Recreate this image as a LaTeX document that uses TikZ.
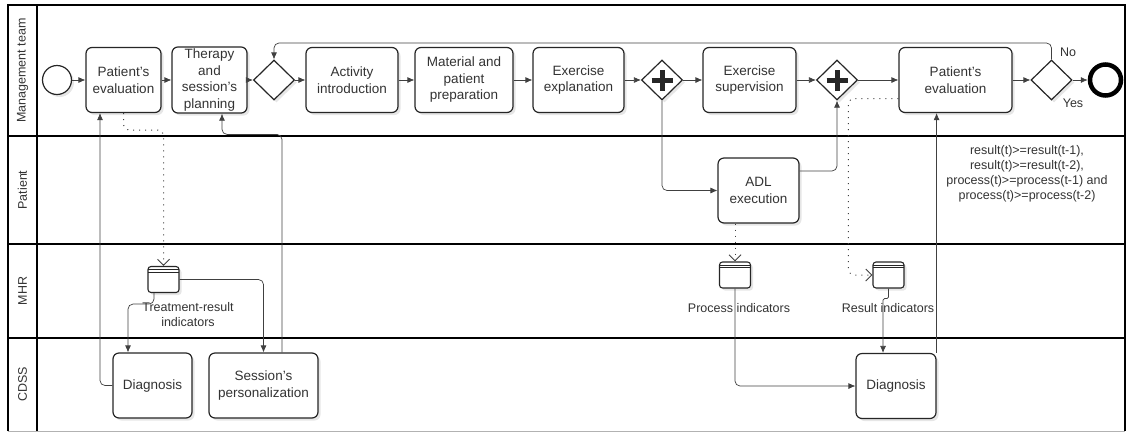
\documentclass[tikz,border=0pt]{standalone}
\usepackage{fontspec}
\setmainfont{Liberation Sans}
\usetikzlibrary{positioning}
\usetikzlibrary{shapes.geometric}
\usetikzlibrary{arrows.meta}
\usetikzlibrary{shadows}

\begin{document}
\begin{tikzpicture}
          [x=1pt, y=-1pt,
           every node/.style={text=black!80},
           soft/.style={drop shadow={shadow xshift=2.5pt, shadow yshift=-2.5pt, opacity=0.2}},
           task/.style={draw=black!85, line width=1.2pt, rounded corners=6pt, fill=white, soft,
             align=center, minimum height=65pt, inner sep=2pt, font=\fontsize{13.5}{16.5}\selectfont},
           gate/.style={draw=black!85, line width=1.2pt, diamond, fill=white, soft,
             minimum width=41pt, minimum height=40pt, inner sep=0pt},
           plus/.style={gate, path picture={
             \draw[line width=5pt, black!85]
               ([xshift=-10.5pt]path picture bounding box.center) -- ([xshift=10.5pt]path picture bounding box.center)
               ([yshift=-10.5pt]path picture bounding box.center) -- ([yshift=10.5pt]path picture bounding box.center);}},
           store/.style={draw=black!85, line width=1.1pt, rounded corners=3pt, fill=white, soft,
             minimum width=31pt, minimum height=26pt, path picture={
             \draw[line width=0.8pt, black!85]
               ([yshift=-3pt]path picture bounding box.north west) -- ([yshift=-3pt]path picture bounding box.north east)
               ([yshift=-5.5pt]path picture bounding box.north west) -- ([yshift=-5.5pt]path picture bounding box.north east);}},
           flow/.style={draw=black!75, line width=0.7pt, rounded corners=5pt, -{Latex[length=7pt,width=6pt]}},
           assoc/.style={draw=black!75, line width=1pt, dash pattern=on 1pt off 5pt, rounded corners=6pt,
             -{Straight Barb[length=6pt,width=12pt]}},
           note/.style={font=\fontsize{12.5}{15}\selectfont, align=center},
           lane/.style={rotate=90, font=\fontsize{12.5}{15}\selectfont}]
          \useasboundingbox (0,0) rectangle (1126,432);

          % pool and lanes
          \draw[line width=1.8pt] (8,431) -- (8,5) -- (1125,5) -- (1125,431);
          \draw[black!30] (8,431) -- (1125,431);
          \draw[line width=1.8pt] (37,5) -- (37,431);
          \foreach \y in {136,244,338}
            \draw[line width=1.8pt] (8,\y) -- (1125,\y);
          \node (mgmt) [lane] at (22.5,70.5) {Management team};
          \node (pat) [lane] at (22.5,190) {Patient};
          \node (mhr) [lane] at (22.5,291) {MHR};
          \node (cdss) [lane] at (22.5,384.5) {CDSS};

          % management team
          \node (start) [circle, draw=black!85, line width=1.2pt, fill=white, soft, minimum size=29pt] at (57,80) {};
          \node (eval1) [task, minimum width=75pt] at (123.5,80) {Patient's\\evaluation};
          \node (plan) [task, minimum width=75pt] at (209.5,80) {Therapy\\and\\session's\\planning};
          \node (gw1) [gate] at (274,80) {};
          \node (act) [task, minimum width=92pt] at (352,80) {Activity\\introduction};
          \node (prep) [task, minimum width=98pt] at (464,80) {Material and\\patient\\preparation};
          \node (expl) [task, minimum width=91pt] at (578.5,80) {Exercise\\explanation};
          \node (par1) [plus] at (662,80) {};
          \node (sup) [task, minimum width=93pt] at (749.5,80) {Exercise\\supervision};
          \node (par2) [plus] at (837,80) {};
          \node (eval2) [task, minimum width=113pt] at (955.5,80) {Patient's\\evaluation};
          \node (gw2) [gate] at (1051.5,80) {};
          \node (stop) [circle, draw=black, line width=4.5pt, fill=white, minimum size=31pt] at (1105.5,80) {};
          \node (no) [note] at (1068,52) {No};
          \node (yes) [note] at (1073,103) {Yes};

          % patient
          \node (adl) [task, minimum width=81pt] at (758.5,190.5) {ADL\\execution};
          \node (cond) [note] at (1027,174) {result(t)>=result(t-1),\\result(t)>=result(t-2),\\process(t)>=process(t-1) and\\process(t)>=process(t-2)};

          % MHR
          \node (tri) [store] at (163.5,279.5) {};
          \node (proc) [store] at (735,275) {};
          \node (res) [store] at (888.5,275) {};
          \node (trilabel) [note] at (188,314.5) {Treatment-result\\indicators};
          \node (proclabel) [note] at (739,308) {Process indicators};
          \node (reslabel) [note] at (888,308) {Result indicators};

          % CDSS
          \node (diag1) [task, minimum width=79pt] at (152.5,385.5) {Diagnosis};
          \node (pers) [task, minimum width=109pt] at (263.5,385.5) {Session's\\personalization};
          \node (diag2) [task, minimum width=80pt] at (896,386) {Diagnosis};

          \draw[flow] (start) -- (eval1);
          \draw[flow] (eval1) -- (plan);
          \draw[flow] (plan) -- (gw1);
          \draw[flow] (gw1) -- (act);
          \draw[flow] (act) -- (prep);
          \draw[flow] (prep) -- (expl);
          \draw[flow] (expl) -- (par1);
          \draw[flow] (par1) -- (sup);
          \draw[flow] (sup) -- (par2);
          \draw[flow] (par2) -- (eval2);
          \draw[flow] (eval2) -- (gw2);
          \draw[flow] (gw2) -- (stop);
          \coordinate (looptop) at (0,43);
          \draw[flow] (gw2.north) -- (gw2.north |- looptop) -- (gw1.north |- looptop) -- (gw1.north);

          \draw[flow] (par1.south) |- (adl.west);
          \draw[flow] ([yshift=19.5pt]adl.east) -| (par2.south);
          \draw[flow] (diag1.west) -| ([xshift=-23.5pt]eval1.south);
          \draw[flow] ([xshift=18.5pt]pers.north) -- ++(0,-218) -| ([xshift=12.5pt]plan.south);
          \draw[flow] ([xshift=-9.5pt]tri.south) -- ++(0,11) -| ([xshift=-24.5pt]diag1.north);
          \draw[flow] (tri.east) -| (pers.north);
          \draw[flow] (proc.south) |- (diag2.west);
          \draw[flow, rounded corners=1.5pt] (res.south) -- ++(0,10) -| ([xshift=-13pt]diag2.north);
          \draw[flow] (diag2.north east) -- (diag2.north east |- eval2.south);

          \coordinate (dotbend) at (163.5,130);
          \draw[assoc] (eval1.south) |- (dotbend) -- (tri.north);
          \draw[assoc] ([xshift=-23.5pt]adl.south) -- (proc.north);
          \draw[assoc] ([yshift=-18.5pt]eval2.west) -| ([xshift=-24pt]res.west) -- (res.west);

        \end{tikzpicture}
\end{document}
